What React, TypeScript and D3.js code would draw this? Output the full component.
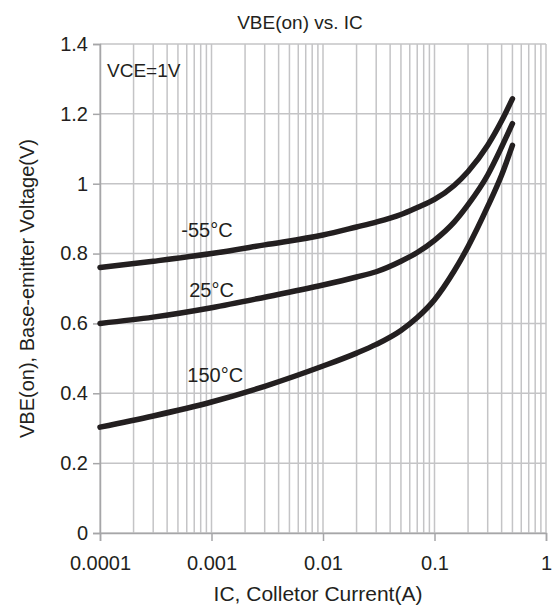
import { useRef, useEffect } from 'react';
import * as d3 from 'd3';

// collector current samples (A)
const currents = [0.0001, 0.0003, 0.001, 0.003, 0.01, 0.02, 0.03, 0.05, 0.07, 0.1, 0.15, 0.2, 0.3, 0.4, 0.5];

// VBE(on) in volts for each temperature
const vbeMinus55 = [0.76, 0.778, 0.8, 0.825, 0.853, 0.876, 0.89, 0.912, 0.932, 0.955, 0.995, 1.035, 1.11, 1.18, 1.243];
const vbe25 = [0.6, 0.618, 0.645, 0.675, 0.71, 0.733, 0.748, 0.778, 0.803, 0.838, 0.89, 0.94, 1.025, 1.105, 1.172];
const vbe150 = [0.303, 0.335, 0.375, 0.42, 0.478, 0.515, 0.54, 0.58, 0.617, 0.668, 0.75, 0.82, 0.935, 1.025, 1.11];

const seriesNames = ['-55°C', '25°C', '150°C'];
const seriesValues = [vbeMinus55, vbe25, vbe150];
// where each curve label sits (current, voltage)
const labelAt = [[0.00091, 0.847], [0.001, 0.676], [0.00108, 0.432]];

const xTicks = [0.0001, 0.001, 0.01, 0.1, 1];
const xTickLabels = ['0.0001', '0.001', '0.01', '0.1', '1'];
const yTicks = [0, 0.2, 0.4, 0.6, 0.8, 1, 1.2, 1.4];

export default function App() {
  const svgRef = useRef<SVGSVGElement>(null);

  useEffect(() => {
    const W = 560;
    const H = 608;
    const margin = { top: 44, right: 14, bottom: 75, left: 100 };
    const width = W - margin.left - margin.right;
    const height = H - margin.top - margin.bottom;
    const font = 'Liberation Sans, Arial, Helvetica, sans-serif';
    const ink = '#231f20';

    const root = d3.select(svgRef.current)
      .html('')
      .attr('width', W)
      .attr('height', H);

    root.append('rect').attr('width', W).attr('height', H).attr('fill', '#fff');

    const svg = root.append('g')
      .attr('transform', `translate(${margin.left},${margin.top})`);

    const x = d3.scaleLog().domain([0.0001, 1]).range([0, width]);
    const y = d3.scaleLinear().domain([0, 1.4]).range([height, 0]);

    // minor + major grid (vertical)
    const gridX: number[] = [];
    for (let e = -4; e < 0; e++) {
      for (let m = 1; m < 10; m++) gridX.push(m * Math.pow(10, e));
    }
    gridX.push(1);

    const grid = '#c4c4c6';
    svg.append('g')
      .selectAll('line')
      .data(gridX)
      .enter()
      .append('line')
      .attr('x1', d => x(d))
      .attr('x2', d => x(d))
      .attr('y1', 0)
      .attr('y2', height)
      .attr('stroke', grid)
      .attr('stroke-width', 1.5);

    svg.append('g')
      .selectAll('line')
      .data(yTicks)
      .enter()
      .append('line')
      .attr('x1', 0)
      .attr('x2', width)
      .attr('y1', d => y(d))
      .attr('y2', d => y(d))
      .attr('stroke', grid)
      .attr('stroke-width', 1.5);

    // axes
    const axisColor = '#a6a6a8';
    const yAxis = svg.append('g')
      .call(d3.axisLeft(y).tickValues(yTicks).tickSize(7).tickPadding(5).tickFormat(d => String(d)));
    const xAxis = svg.append('g')
      .attr('transform', `translate(0,${height})`)
      .call(d3.axisBottom(x).tickValues(xTicks).tickSize(8).tickPadding(15)
        .tickFormat((d, i) => xTickLabels[i]));

    [xAxis, yAxis].forEach(a => {
      a.select('.domain').attr('stroke', axisColor).attr('stroke-width', 1.5);
      a.selectAll('.tick line').attr('stroke', axisColor).attr('stroke-width', 1.5);
      a.selectAll('.tick text')
        .attr('fill', ink)
        .style('font-family', font)
        .style('font-size', '20px');
    });

    // curves
    const line = d3.line<number>()
      .x((_, i) => x(currents[i]))
      .y(d => y(d))
      .curve(d3.curveMonotoneX);

    seriesValues.forEach(vals => {
      svg.append('path')
        .datum(vals)
        .attr('fill', 'none')
        .attr('stroke', ink)
        .attr('stroke-width', 5.5)
        .attr('stroke-linecap', 'round')
        .attr('d', line);
    });

    seriesNames.forEach((name, i) => {
      svg.append('text')
        .attr('x', x(labelAt[i][0]))
        .attr('y', y(labelAt[i][1]))
        .attr('text-anchor', 'middle')
        .attr('fill', ink)
        .style('font-family', font)
        .style('font-size', '20px')
        .text(name);
    });

    svg.append('text')
      .attr('x', 7)
      .attr('y', 33)
      .attr('fill', ink)
      .style('font-family', font)
      .style('font-size', '19px')
      .text('VCE=1V');

    // titles
    root.append('text')
      .attr('x', 300)
      .attr('y', 29)
      .attr('text-anchor', 'middle')
      .attr('fill', ink)
      .style('font-family', font)
      .style('font-size', '19px')
      .text('VBE(on) vs. IC');

    root.append('text')
      .attr('x', 318)
      .attr('y', 601)
      .attr('text-anchor', 'middle')
      .attr('fill', ink)
      .style('font-family', font)
      .style('font-size', '21px')
      .text('IC, Colletor Current(A)');

    root.append('text')
      .attr('transform', `translate(34,${margin.top + height / 2}) rotate(-90)`)
      .attr('text-anchor', 'middle')
      .attr('fill', ink)
      .style('font-family', font)
      .style('font-size', '20px')
      .text('VBE(on), Base-emitter Voltage(V)');
  }, []);

  return (
    <svg ref={svgRef} style={{ position: 'absolute', left: 0, top: 0, display: 'block' }} />
  );
}
